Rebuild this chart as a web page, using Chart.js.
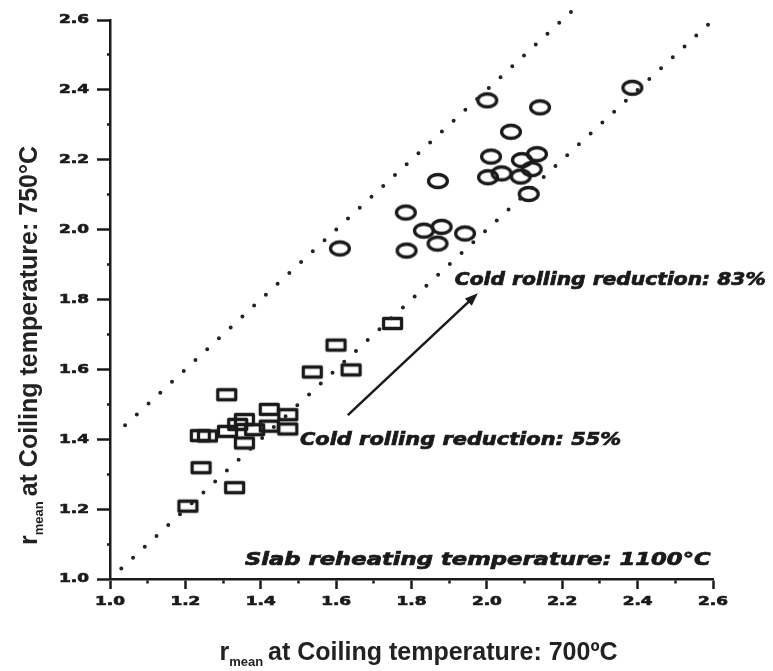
<!DOCTYPE html>
<html>
<head>
<meta charset="utf-8">
<script src="https://cdn.jsdelivr.net/npm/chart.js@4.4.0/dist/chart.umd.min.js"></script>
<style>
  html, body { margin: 0; padding: 0; background: #fff; }
  #wrap { width: 773px; height: 671px; }
</style>
</head>
<body>
<div id="wrap"><canvas id="c" width="773" height="671"></canvas></div>
<script>
// r_mean, cold rolling reduction 55% (squares)
const sqX = [1.208, 1.243, 1.332, 1.241, 1.260, 1.311, 1.313, 1.340, 1.358, 1.358, 1.385, 1.424, 1.424, 1.473, 1.473, 1.538, 1.641, 1.601, 1.751];
const sqY = [1.207, 1.317, 1.260, 1.409, 1.408, 1.526, 1.421, 1.441, 1.455, 1.388, 1.426, 1.484, 1.436, 1.469, 1.428, 1.591, 1.597, 1.668, 1.730];

// r_mean, cold rolling reduction 83% (circles)
const ciX = [1.610, 1.785, 1.787, 1.833, 1.880, 1.869, 1.942, 1.870, 2.001, 2.141, 2.386, 2.064, 2.011, 2.093, 2.133, 2.003, 2.039, 2.090, 2.119, 2.111];
const ciY = [1.946, 2.049, 1.940, 1.997, 2.008, 1.960, 1.989, 2.139, 2.370, 2.350, 2.406, 2.280, 2.209, 2.199, 2.216, 2.150, 2.161, 2.152, 2.173, 2.102];

// dotted reference lines
const lowLineX = [1.03, 2.60];
const lowLineY = [1.03, 2.60];
const upLineX = [1.04, 2.225];
const upLineY = [1.44, 2.625];

// arrow 55% -> 83%
const arrowX = [1.631, 1.976];
const arrowY = [1.469, 1.818];

// annotations (left x, baseline y in data units)
const noteText = ['Cold rolling reduction: 83%', 'Cold rolling reduction: 55%', 'Slab reheating temperature: 1100\u00B0C'];
const noteX = [1.915, 1.504, 1.358];
const noteY = [1.841, 1.383, 1.040];

const axisMin = 1.0, axisMax = 2.6;

const INK = '#1a1a1a';
const NOTE_FONT = 'bold oblique 17px "DejaVu Sans"';
const NOTE_STRETCH = [1.19, 1.23, 1.335];

function ellipseMark() {
  const c = document.createElement('canvas');
  c.width = 26; c.height = 20;
  const g = c.getContext('2d');
  g.lineWidth = 3.3; g.strokeStyle = INK;
  g.beginPath(); g.ellipse(13, 10, 9.4, 6.5, 0, 0, Math.PI * 2); g.stroke();
  return c;
}
function rectMark() {
  const c = document.createElement('canvas');
  c.width = 26; c.height = 18;
  const g = c.getContext('2d');
  g.lineWidth = 3.3; g.strokeStyle = INK; g.lineJoin = 'round';
  g.strokeRect(3.5, 3.5, 18, 10);
  return c;
}

const pts = (xs, ys) => xs.map((x, i) => ({ x, y: ys[i] }));

const isMinor = v => Math.round(v * 10) % 2 !== 0;

// wide, heavy text like the scanned original
function wideText(ctx, text, x, y, font, stretch) {
  ctx.save();
  ctx.font = font;
  ctx.translate(x, y);
  ctx.scale(stretch, 1);
  ctx.lineWidth = 0.7;
  ctx.strokeStyle = ctx.fillStyle;
  ctx.fillText(text, 0, 0);
  ctx.strokeText(text, 0, 0);
  ctx.restore();
}

const notesPlugin = {
  id: 'notes',
  afterDatasetsDraw(chart) {
    const { ctx, scales: { x, y } } = chart;
    ctx.save();
    // arrow
    const x1 = x.getPixelForValue(arrowX[0]), y1 = y.getPixelForValue(arrowY[0]);
    const x2 = x.getPixelForValue(arrowX[1]), y2 = y.getPixelForValue(arrowY[1]);
    const a = Math.atan2(y2 - y1, x2 - x1);
    ctx.strokeStyle = INK; ctx.fillStyle = INK; ctx.lineWidth = 2.5;
    ctx.beginPath(); ctx.moveTo(x1, y1);
    ctx.lineTo(x2 - 8 * Math.cos(a), y2 - 8 * Math.sin(a)); ctx.stroke();
    ctx.beginPath();
    ctx.moveTo(x2, y2);
    ctx.lineTo(x2 - 13 * Math.cos(a) + 5 * Math.sin(a), y2 - 13 * Math.sin(a) - 5 * Math.cos(a));
    ctx.lineTo(x2 - 13 * Math.cos(a) - 5 * Math.sin(a), y2 - 13 * Math.sin(a) + 5 * Math.cos(a));
    ctx.closePath(); ctx.fill();

    ctx.textBaseline = 'alphabetic';
    ctx.textAlign = 'left';
    noteText.forEach((t, i) => {
      wideText(ctx, t, x.getPixelForValue(noteX[i]), y.getPixelForValue(noteY[i]), NOTE_FONT, NOTE_STRETCH[i]);
    });
    ctx.restore();
  },
  afterDraw(chart) {
    const { ctx, chartArea, scales: { x, y } } = chart;

    // tick labels (majors only)
    ctx.save();
    ctx.fillStyle = INK;
    const tf = 'bold 13px "DejaVu Sans"';
    ctx.font = tf;
    ctx.textBaseline = 'middle'; ctx.textAlign = 'left';
    x.ticks.forEach(t => {
      if (isMinor(t.value)) return;
      const s = t.value.toFixed(1);
      const w = ctx.measureText(s).width * 1.3;
      wideText(ctx, s, x.getPixelForValue(t.value) - w / 2, chartArea.bottom + 23, tf, 1.3);
    });
    y.ticks.forEach(t => {
      if (isMinor(t.value)) return;
      const s = t.value.toFixed(1);
      const w = ctx.measureText(s).width * 1.3;
      wideText(ctx, s, chartArea.left - 21 - w, y.getPixelForValue(t.value), tf, 1.3);
    });
    ctx.restore();

    // axis titles with subscript
    const main = 'bold 25px "Liberation Sans"';
    const sub = 'bold 13px "Liberation Sans"';
    const drawTitle = (rest) => {
      ctx.font = main; const wr = ctx.measureText('r').width;
      const wRest = ctx.measureText(rest).width;
      ctx.font = sub; const ws = ctx.measureText('mean').width;
      const total = wr + ws + 5 + wRest;
      let cx = -total / 2;
      ctx.font = main; ctx.fillText('r', cx, 0); cx += wr;
      ctx.font = sub; ctx.fillText('mean', cx, 6); cx += ws + 5;
      ctx.font = main; ctx.fillText(rest, cx, 0);
    };
    ctx.save();
    ctx.fillStyle = '#222';
    ctx.textAlign = 'left';
    ctx.textBaseline = 'alphabetic';
    ctx.save();
    ctx.translate((chartArea.left + chartArea.right) / 2 + 7, 660);
    drawTitle('at Coiling temperature: 700\u00BAC');
    ctx.restore();
    ctx.save();
    ctx.translate(37, (chartArea.top + chartArea.bottom) / 2 + 46);
    ctx.rotate(-Math.PI / 2);
    drawTitle('at Coiling temperature: 750\u00B0C');
    ctx.restore();
    ctx.restore();
  }
};

const hidden = 'rgba(0,0,0,0)';

new Chart(document.getElementById('c'), {
  type: 'scatter',
  data: {
    datasets: [
      {
        data: pts(lowLineX, lowLineY), showLine: true, pointRadius: 0,
        borderColor: '#222', borderWidth: 4, borderDash: [0, 16], borderCapStyle: 'round'
      },
      {
        data: pts(upLineX, upLineY), showLine: true, pointRadius: 0, clip: false,
        borderColor: '#222', borderWidth: 4, borderDash: [0, 16], borderCapStyle: 'round'
      },
      { data: pts(sqX, sqY), pointStyle: rectMark(), pointRadius: 10 },
      { data: pts(ciX, ciY), pointStyle: ellipseMark(), pointRadius: 10 }
    ]
  },
  options: {
    responsive: false,
    animation: false,
    layout: { padding: { top: 20, right: 60, bottom: 0, left: 0 } },
    plugins: { legend: { display: false }, tooltip: { enabled: false } },
    scales: {
      x: {
        type: 'linear', min: axisMin, max: axisMax,
        afterFit: s => { s.height = 92; },
        border: { color: INK, width: 2.5 },
        grid: {
          drawOnChartArea: false, tickLength: 10, tickColor: INK, tickWidth: 2.5,
          tickBorderDash: c => isMinor(c.tick.value) ? [3, 50] : []
        },
        ticks: {
          stepSize: 0.1, autoSkip: false, maxRotation: 0, color: hidden,
          callback: v => isMinor(v) ? '' : Number(v).toFixed(1)
        }
      },
      y: {
        type: 'linear', min: axisMin, max: axisMax,
        afterFit: s => { s.width = 110; },
        border: { color: INK, width: 2.5 },
        grid: {
          drawOnChartArea: false, tickLength: 13, tickColor: INK, tickWidth: 2.5,
          tickBorderDash: c => isMinor(c.tick.value) ? [0, 10, 3, 50] : []
        },
        ticks: {
          stepSize: 0.1, autoSkip: false, color: hidden,
          callback: v => isMinor(v) ? '' : Number(v).toFixed(1)
        }
      }
    }
  },
  plugins: [notesPlugin]
});
</script>
</body>
</html>
